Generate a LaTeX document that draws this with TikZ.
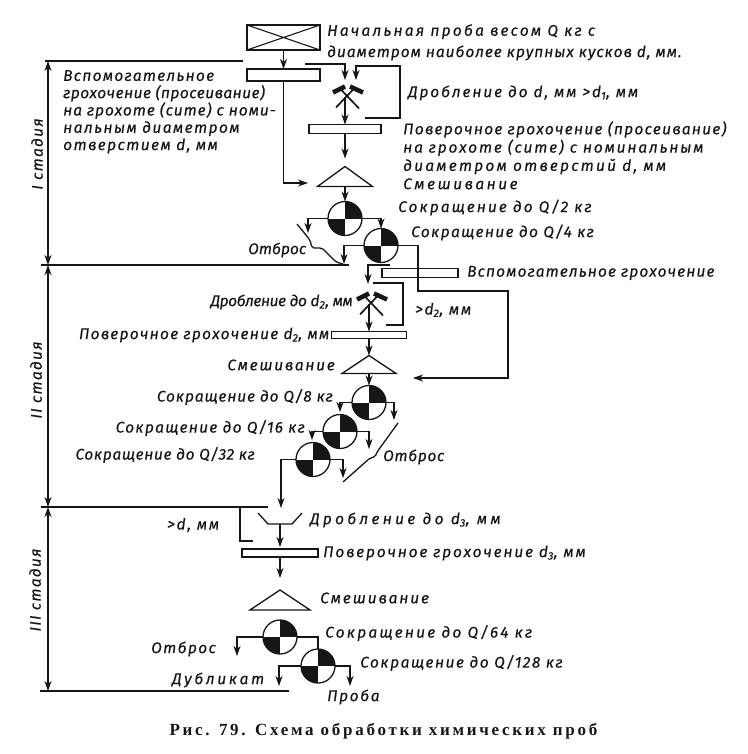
\documentclass[tikz,border=0pt]{standalone}
\usepackage{fontspec}
\setmainfont{Liberation Serif}
\newfontfamily\labfont[FakeBold=0.3]{Fira Sans}
\newfontfamily\capfont[LetterSpace=16]{Liberation Serif}
\newcommand\lsp[2]{{\addfontfeature{LetterSpace=#1}#2}}
\usetikzlibrary{shapes.geometric,arrows.meta,positioning,calc}
\definecolor{ink}{HTML}{161616}
\begin{document}
\begin{tikzpicture}[
    x=1pt, y=-1pt,
    color=ink,
    node distance=0mm,
    pipe/.style={line width=1.3pt},
    flow/.style={pipe, -{Stealth[length=10pt,width=7pt,inset=3pt]}},
    lab/.style={font=\labfont\fontsize{15.5}{17.3}\selectfont\itshape\addfontfeature{LetterSpace=#1}, inner sep=0pt, anchor=west, align=left},
    lab/.default=0,
    stage/.style={lab=#1, anchor=center, rotate=90},
    sieve/.style={draw, line width=1.3pt, inner sep=0pt, outer sep=0pt, minimum width=#1},
    mixer/.style={draw, line width=1.3pt, isosceles triangle, isosceles triangle stretches, shape border rotate=90, inner sep=0pt, outer sep=0pt, minimum width=#1},
    divider/.style={circle, draw, line width=1.3pt, fill=white, inner sep=0pt, outer sep=0pt, minimum size=34pt,
      path picture={
        \fill[ink] (path picture bounding box.center) rectangle (path picture bounding box.north east);
        \fill[ink] (path picture bounding box.center) rectangle (path picture bounding box.south west);}},
    crusher/.style={inner sep=0pt, outer sep=0pt, minimum width=32pt, minimum height=27pt,
      path picture={
        \draw[line width=1.7pt] (path picture bounding box.north west) ++(4pt,-24pt) -- ++(19pt,20pt);
        \draw[line width=1.7pt] (path picture bounding box.north west) ++(27pt,-25pt) -- ++(-20pt,21pt);
        \draw[line width=4.5pt] (path picture bounding box.north west) ++(1pt,-9pt) -- ++(12pt,6pt);
        \draw[line width=4.5pt] (path picture bounding box.north west) ++(18pt,-3pt) -- ++(13pt,-6pt);}}
]
\useasboundingbox (0,0) rectangle (747,754);

\node[draw, line width=1.3pt, inner sep=0pt, outer sep=0pt, minimum width=73pt, minimum height=25pt,
  path picture={\draw[line width=1.1pt] (path picture bounding box.north west) -- (path picture bounding box.south east)
    (path picture bounding box.north east) -- (path picture bounding box.south west);}] (box) at (283.5,37.5) {};
\node[sieve=73pt, minimum height=12pt, below=19pt of box] (sieveA) {};
\node[crusher] (hamA) at (348,97) {};
\node[sieve=72pt, minimum height=9pt, below=14pt of hamA, xshift=-3pt] (sieveB) {};
\node[mixer=55pt, minimum height=20pt, below=33pt of sieveB] (triA) {};
\node[divider, below=15pt of triA] (cutA) {};
\node[divider, below=-7pt of cutA, xshift=36pt] (cutB) {};
\node[sieve=76pt, minimum height=9pt, below=6pt of cutB, xshift=39pt] (sieveC) {};
\node[crusher] (hamB) at (372,304) {};
\node[sieve=75pt, minimum height=7pt, below=14pt of hamB, xshift=-3pt] (sieveD) {};
\node[mixer=54pt, minimum height=18pt, below=17pt of sieveD] (triB) {};
\node[divider, below=12pt of triB] (cutC) {};
\node[divider, below=-5pt of cutC, xshift=-29pt] (cutD) {};
\node[divider, below=-6pt of cutD, xshift=-27pt] (cutE) {};
\node[inner sep=0pt, outer sep=0pt, minimum width=44pt, minimum height=11pt] (hop) at (280,518.5) {};
\node[sieve=76pt, minimum height=8pt, below=25pt of hop] (sieveE) {};
\node[mixer=60pt, minimum height=20pt, below=33pt of sieveE] (triC) {};
\node[divider, below=10pt of triC] (cutF) {};
\node[divider, below=-5pt of cutF, xshift=38pt] (cutG) {};

\draw[pipe] (hop.north west) -- ++(10,11) -- ++(24,0) -- (hop.north east);

\foreach \n/\xa/\xb/\yy in {0/45/243/61, 1/41/349/265, 2/41/268/507, 3/40/289/691} {
  \coordinate (sl\n) at (\xa,\yy);
  \coordinate (sr\n) at (\xb,\yy);
  \coordinate (mk\n) at (48,\yy);
  \draw[pipe] (sl\n) -- (sr\n);
}
\foreach \a/\b in {0/1, 1/2, 2/3}
  \draw[pipe, {Stealth[length=10pt,width=7pt,inset=3pt]}-{Stealth[length=10pt,width=7pt,inset=3pt]}] (mk\a) -- (mk\b);

\foreach \n/\xx/\yy in {feedA/308/183, gateA/305/64, inA/345/80, inB/356/80, turnA/400/66, outA/365/118,
    dropA/308/233, dropB/344/264, tapB/390/265, inC/368/284, outC/373/283, turnC/403/325, backC/386/325,
    turnD/418/291, turnE/508/378, backD/413/378, dropC/340/412, dropD/394/420, dropE/312/440, dropF/369/449,
    dropG/343/478, dropH/281/508, sideA/240/507, sideB/253/541, dropI/237/656, dropJ/279/686, dropK/350/686}
  \coordinate (\n) at (\xx,\yy);

\foreach \a/\b/\s in {box.south/sieveA.north/0, sieveB.south/triA.north/8, triA.south/cutA.north/0,
    sieveD.south/triB.north/0, triB.south/cutC.north/0, hop.south/sieveE.north/2, sieveE.south/triC.north/12}
  \draw[flow, shorten >=\s pt] (\a) -- (\b);
\draw[flow] (sieveB.north |- hamA.center) -- (sieveB.north);
\draw[flow] (sieveD.north |- hamB.center) -- (sieveD.north);

\draw[flow] (sieveA.south) |- (feedA);
\draw[flow] (gateA) -| (inA);
\draw[flow] (outA) -| (turnA) -| (inB);
\draw[flow] (cutA.west) -| (dropA);
\draw[flow] (cutA.east) -| (cutB.north);
\draw[flow] (cutB.west) -| (dropB);
\draw[flow] (tapB) -| (inC);
\draw[pipe] (outC) -| (turnC) -- (backC);
\draw[flow] (cutB.east) -| (turnD) -| (turnE) -- (backD);
\draw[flow] (cutC.west) -| (dropC);
\draw[flow] (cutC.east) -| (dropD);
\draw[flow] (cutD.west) -| (dropE);
\draw[flow] (cutD.east) -| (dropF);
\draw[flow] (cutE.west) -| (dropH);
\draw[flow] (cutE.east) -| (dropG);
\draw[pipe] (sideA) |- (sideB);
\draw[flow] (cutF.west) -| (dropI);
\draw[pipe] (cutF.east) -| (cutG.north);
\draw[flow] (cutG.west) -| (dropJ);
\draw[flow] (cutG.east) -| (dropK);

\draw[pipe, rounded corners=2pt] (297,224) -- (310,240) -- (312,248) -- (322,248) -- (336,262) -- (343,264);
\draw[pipe, rounded corners=2pt] (398,423) -- (377,452) -- (375,457) -- (370,458) -- (343,482);

\node[stage=8] (stI) at (37,154) {I стадия};
\node[stage=8] (stII) at (36,380) {II стадия};
\node[stage=8] (stIII) at (35,590) {III стадия};

\node[lab, anchor=north west] (tStart) at (327,24) {\lsp{14}{Начальная проба весом Q кг с}\\[4pt]\lsp{6}{диаметром наиболее крупных кусков d, мм.}};
\node[lab, anchor=north west] (tAux) at (63,70) {\lsp{8}{Вспомогательное}\\\lsp{3}{грохочение (просеивание)}\\\lsp{6}{на грохоте (сите) с номи-}\\\lsp{9}{нальным диаметром}\\\lsp{9}{отверстием d, мм}};
\node[lab=12] (tCrushA) at (408,93) {Дробление до d, мм >d\textsubscript{1}, мм};
\node[lab, anchor=north west] (tCheckA) at (403,121) {\lsp{8}{Поверочное грохочение (просеивание)}\\[1pt]\lsp{11.7}{на грохоте (сите) с номинальным}\\[1pt]\lsp{14}{диаметром отверстий d, мм}\\[1pt]\lsp{16}{Смешивание}};
\node[lab=13, right=36pt of cutA, yshift=11pt] (tCutA) {Сокращение до Q/2 кг};
\node[lab=8.5, right=13pt of cutB, yshift=13pt] (tCutB) {Сокращение до Q/4 кг};
\node[lab] (tWasteA) at (248,250) {Отброс};
\node[lab=7, right=9pt of sieveC] (tAuxB) {Вспомогательное грохочение};
\node[lab=-3, anchor=east] (tCrushB) at (353,302) {Дробление до d\textsubscript{2}, мм};
\node[lab=11] (tOver) at (415,310) {>d\textsubscript{2}, мм};
\node[lab=8, left=2pt of sieveD] (tCheckB) {Поверочное грохочение d\textsubscript{2}, мм};
\node[lab=11, anchor=east] (tMixB) at (335,365) {Смешивание};
\node[lab=5.5, anchor=east] (tCutC) at (333,397) {Сокращение до Q/8 кг};
\node[lab=8, anchor=east] (tCutD) at (305,428) {Сокращение до Q/16 кг};
\node[lab=4, anchor=east] (tCutE) at (255,455) {Сокращение до Q/32 кг};
\node[lab=4] (tWasteB) at (383,457) {Отброс};
\node[lab=11] (tOverB) at (167,525) {>d, мм};
\node[lab=21, right=8pt of hop, yshift=-1.5pt] (tCrushC) {Дробление до d\textsubscript{3}, мм};
\node[lab=11.6, right=5pt of sieveE] (tCheckC) {Поверочное грохочение d\textsubscript{3}, мм};
\node[lab=12] (tMixC) at (320,598) {Смешивание};
\node[lab=14] (tCutF) at (325,633) {Сокращение до Q/64 кг};
\node[lab=9.5] (tCutG) at (360,663) {Сокращение до Q/128 кг};
\node[lab=8.5] (tWasteC) at (151,649) {Отброс};
\node[lab=17] (tDup) at (172,680) {Дубликат};
\node[lab=10] (tProbe) at (327,697) {Проба};
\node[inner sep=0pt, font=\capfont\fontsize{17}{19}\selectfont\bfseries] (tCaption) at (383.5,731) {Рис. 79. Схема обработки химических проб};
\end{tikzpicture}
\end{document}
